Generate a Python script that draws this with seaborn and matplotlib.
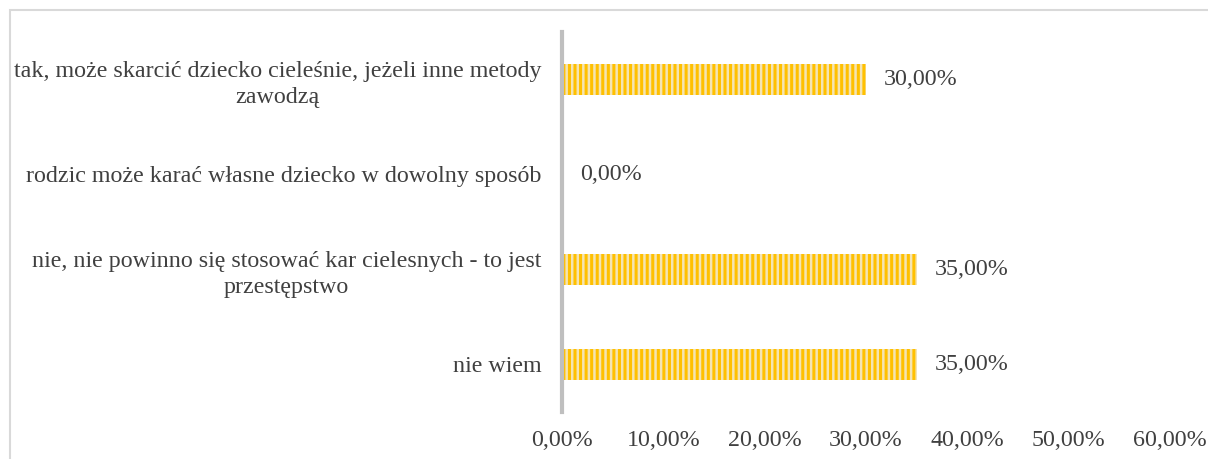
import pandas as pd
import seaborn as sns
import matplotlib.pyplot as plt
from matplotlib.patches import Rectangle

# dane z wykresu
categories = [
    "tak, może skarcić dziecko cieleśnie, jeżeli inne metody\nzawodzą",
    "rodzic może karać własne dziecko w dowolny sposób",
    "nie, nie powinno się stosować kar cielesnych - to jest\nprzestępstwo",
    "nie wiem",
]
values = [30.0, 0.0, 35.0, 35.0]
xticks = [0, 10, 20, 30, 40, 50, 60]

sns.set_style("white")
plt.rcParams['font.family'] = ['Liberation Serif', 'DejaVu Serif']
plt.rcParams['hatch.linewidth'] = 2.2

text_color = "#404040"
fs = 17.3

df = pd.DataFrame({"kat": categories, "proc": values})

fig = plt.figure(figsize=(12.08, 4.59), dpi=100)
ax = fig.add_axes([562 / 1208, 1 - 412 / 459, (1170 - 562) / 1208, 380 / 459])

sns.barplot(data=df, x="proc", y="kat", ax=ax, width=0.32,
            color="#FFE9A8", orient="h")
for p in ax.patches:
    p.set_hatch("|||")
    p.set_edgecolor("#FFC000")
    p.set_linewidth(0)

ax.bar_label(ax.containers[0],
             labels=[f"{v:.2f}".replace(".", ",") + "%" for v in values],
             padding=13, fontsize=fs, color=text_color)

ax.set_xlim(0, 60)
ax.set_ylim(3.5, -0.5)
ax.set_xticks(xticks)
ax.set_xticklabels([f"{t:.2f}".replace(".", ",") + "%" for t in xticks])
ax.set_xlabel("")
ax.set_ylabel("")
ax.tick_params(axis="x", length=0, pad=13, labelsize=fs, labelcolor=text_color)
ax.tick_params(axis="y", length=0, pad=15, labelsize=fs, labelcolor=text_color)
for lab in ax.get_yticklabels():
    lab.set_multialignment("center")
    lab.set_linespacing(1.3)

for s in ["top", "right", "bottom"]:
    ax.spines[s].set_visible(False)
ax.spines["left"].set_color("#BFBFBF")
ax.spines["left"].set_linewidth(3)
ax.grid(False)

# ramka wykresu
fig.patches.append(Rectangle((10 / 1208, -0.1), 1.2, 1 - 10 / 459 + 0.1,
                             transform=fig.transFigure, fill=False,
                             edgecolor="#D9D9D9", linewidth=1.5))

fig.savefig("out.png", dpi=100)
